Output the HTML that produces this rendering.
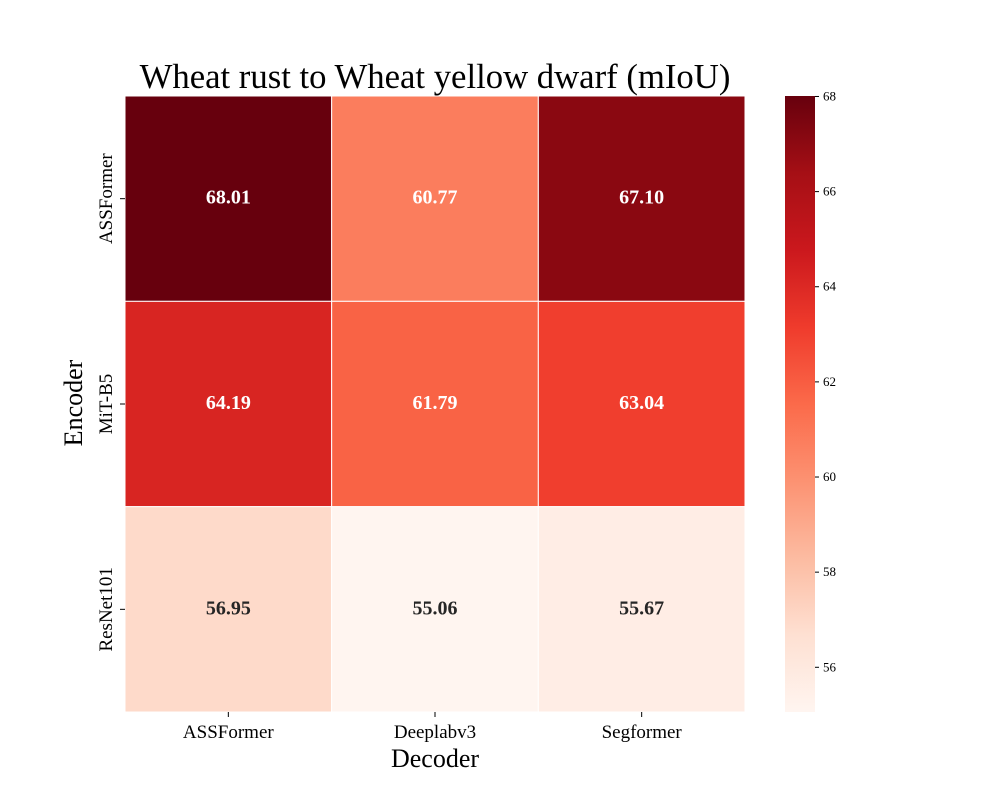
<!DOCTYPE html>
<html><head><meta charset="utf-8"><style>
body{margin:0;background:#fff;}
svg text{font-family:"Liberation Serif",serif;}
</style></head><body>
<svg id="chart" width="1000" height="800" viewBox="0 0 1000 800" xmlns="http://www.w3.org/2000/svg">
<defs>
<linearGradient id="redsGrad" x1="0" y1="1" x2="0" y2="0">
<stop offset="0" stop-color="#fff5f0"/><stop offset="0.125" stop-color="#fee0d2"/><stop offset="0.25" stop-color="#fcbba1"/><stop offset="0.375" stop-color="#fc9272"/><stop offset="0.5" stop-color="#fb6a4a"/><stop offset="0.625" stop-color="#ef3b2c"/><stop offset="0.75" stop-color="#cb181d"/><stop offset="0.875" stop-color="#a50f15"/><stop offset="1" stop-color="#67000d"/>
</linearGradient>
</defs>
<text x="435" y="88" font-size="34.7" text-anchor="middle">Wheat rust to Wheat yellow dwarf (mIoU)</text>
<g id="cells"></g>
<g id="xticks"></g>
<g id="yticks"></g>
<text x="435" y="767" font-size="26" text-anchor="middle">Decoder</text>
<text transform="translate(82,403) rotate(-90)" font-size="26" text-anchor="middle">Encoder</text>
<rect x="785" y="96" width="30" height="616" fill="url(#redsGrad)"/>
<g id="cbticks"></g>
</svg>
<script>
const decoders = ["ASSFormer","Deeplabv3","Segformer"];
const encoders = ["ASSFormer","MiT-B5","ResNet101"];
const values = [
  [68.01, 60.77, 67.10],
  [64.19, 61.79, 63.04],
  [56.95, 55.06, 55.67]
];
const cbTicks = [56,58,60,62,64,66,68];
const vmin = 55.06, vmax = 68.01;

const NS = "http://www.w3.org/2000/svg";
const X0 = 125, X1 = 745, Y0 = 96, Y1 = 712;
const cw = (X1-X0)/decoders.length, ch = (Y1-Y0)/encoders.length;
const stops = ["#fff5f0","#fee0d2","#fcbba1","#fc9272","#fb6a4a","#ef3b2c","#cb181d","#a50f15","#67000d"];
function hex(c){return [1,3,5].map(i=>parseInt(c.substr(i,2),16));}
function color(v){
  let t = Math.max(0,Math.min(1,(v-vmin)/(vmax-vmin)))*(stops.length-1);
  let i = Math.min(Math.floor(t), stops.length-2), f = t-i;
  let a = hex(stops[i]), b = hex(stops[i+1]);
  return "rgb("+a.map((x,k)=>Math.round(x+(b[k]-x)*f)).join(",")+")";
}
function xPos(j){return X0 + cw*j;}
function yPos(i){return Y0 + ch*i;}
function cbY(v){return Y1 - (v-vmin)/(vmax-vmin)*(Y1-Y0);}
function mk(tag, attrs, parent){const e=document.createElementNS(NS,tag);for(const k in attrs)e.setAttribute(k,attrs[k]);parent.appendChild(e);return e;}

const cells = document.getElementById("cells");
values.forEach((row,i)=>row.forEach((v,j)=>{
  const r = mk("rect",{x:xPos(j),y:yPos(i),width:cw,height:ch,fill:color(v),stroke:"#fff","stroke-width":1},cells);
  
  
  const t = mk("text",{x:xPos(j)+cw/2,y:yPos(i)+ch/2+5,"font-size":20,"font-weight":"bold","text-anchor":"middle",fill:(v-vmin)/(vmax-vmin)>0.4?"#fff":"#262626"},cells);
  t.textContent = v.toFixed(2);
  
  
}));
const xt = document.getElementById("xticks");
decoders.forEach((d,j)=>{
  const cx = xPos(j)+cw/2;
  mk("line",{x1:cx,x2:cx,y1:Y1,y2:Y1+5,stroke:"#000"},xt);
  const t = mk("text",{x:cx,y:Y1+26,"font-size":19,"text-anchor":"middle"},xt);
  t.textContent = d;
  
  
});
const yt = document.getElementById("yticks");
encoders.forEach((e,i)=>{
  const cy = yPos(i)+ch/2;
  mk("line",{x1:X0-5,x2:X0,y1:cy,y2:cy,stroke:"#000"},yt);
  const t = mk("text",{transform:"translate("+(X0-13)+","+cy+") rotate(-90)","font-size":19,"text-anchor":"middle"},yt);
  t.textContent = e;
  
  
});
const cb = document.getElementById("cbticks");
cbTicks.forEach(v=>{
  const y = cbY(v);
  mk("line",{x1:815,x2:819,y1:y,y2:y,stroke:"#000"},cb);
  const t = mk("text",{x:823,y:y+4,"font-size":13},cb);
  t.textContent = v;
  
  
});
</script>
</body></html>
